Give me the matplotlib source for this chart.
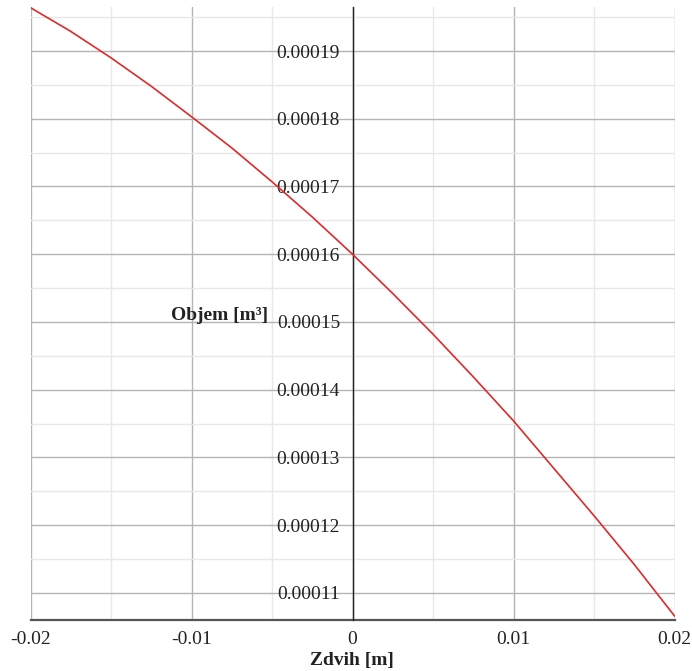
import matplotlib
matplotlib.use("Agg")
import matplotlib.pyplot as plt
from matplotlib.ticker import MultipleLocator, FixedLocator

# Data
zdvih = [-0.02, -0.0175, -0.015, -0.0125, -0.01, -0.0075, -0.005, -0.0025, 0.0,
         0.0025, 0.005, 0.0075, 0.01, 0.0125, 0.015, 0.0175, 0.02]
objem = [1.964e-4, 1.929e-4, 1.890e-4, 1.848e-4, 1.803e-4, 1.757e-4, 1.707e-4, 1.655e-4, 1.600e-4,
         1.542e-4, 1.482e-4, 1.419e-4, 1.354e-4, 1.284e-4, 1.214e-4, 1.142e-4, 1.066e-4]
x_ticks = [-0.02, -0.01, 0, 0.01, 0.02]
x_tick_labels = ["-0.02", "-0.01", "0", "0.01", "0.02"]
y_ticks = [0.00011, 0.00012, 0.00013, 0.00014, 0.00015, 0.00016, 0.00017, 0.00018, 0.00019]
y_tick_labels = ["0.00011", "0.00012", "0.00013", "0.00014", "0.00015",
                 "0.00016", "0.00017", "0.00018", "0.00019"]

W, H = 692, 671
fig = plt.figure(figsize=(W / 100, H / 100), dpi=100)
left, right, top, bottom = 30.5, 674.5, 7, 620
ax = fig.add_axes([left / W, 1 - bottom / H, (right - left) / W, (bottom - top) / H])

ax.plot(zdvih, objem, color="#dd2a2a", lw=1.2, zorder=5)
ax.set_xlim(-0.02, 0.02)
ax.set_ylim(0.000106, 0.0001965)

ax.xaxis.set_major_locator(FixedLocator(x_ticks))
ax.set_xticklabels(x_tick_labels)
ax.yaxis.set_major_locator(FixedLocator(y_ticks))
ax.set_yticklabels(y_tick_labels)
ax.xaxis.set_minor_locator(MultipleLocator(0.005))
ax.yaxis.set_minor_locator(MultipleLocator(0.000005))

ax.grid(True, which="major", color="#b4b4b4", lw=1.0)
ax.grid(True, which="minor", color="#e8e8e8", lw=1.0)
ax.set_axisbelow(True)

for s in ["top", "right"]:
    ax.spines[s].set_visible(False)
ax.spines["left"].set_position(("data", 0))
ax.spines["left"].set_color("#222222")
ax.spines["left"].set_linewidth(1.0)
ax.spines["left"].set_zorder(3)
ax.spines["bottom"].set_color("#555555")
ax.spines["bottom"].set_linewidth(1.6)

fnt = "Liberation Serif"
ax.tick_params(which="both", length=0)
ax.tick_params(axis="y", pad=9, labelsize=14)
ax.tick_params(axis="x", pad=8, labelsize=14)
for lab in ax.get_xticklabels() + ax.get_yticklabels():
    lab.set_fontfamily(fnt)
    lab.set_color("#222222")

fig.text(268 / W, 1 - 319.5 / H, "Objem [m³]", ha="right", va="baseline",
         fontsize=14, fontweight="bold", family=fnt, color="#222222")
fig.text(352 / W, 1 - 665 / H, "Zdvih [m]", ha="center", va="baseline",
         fontsize=14, fontweight="bold", family=fnt, color="#222222")

fig.savefig("out.png", dpi=100)
